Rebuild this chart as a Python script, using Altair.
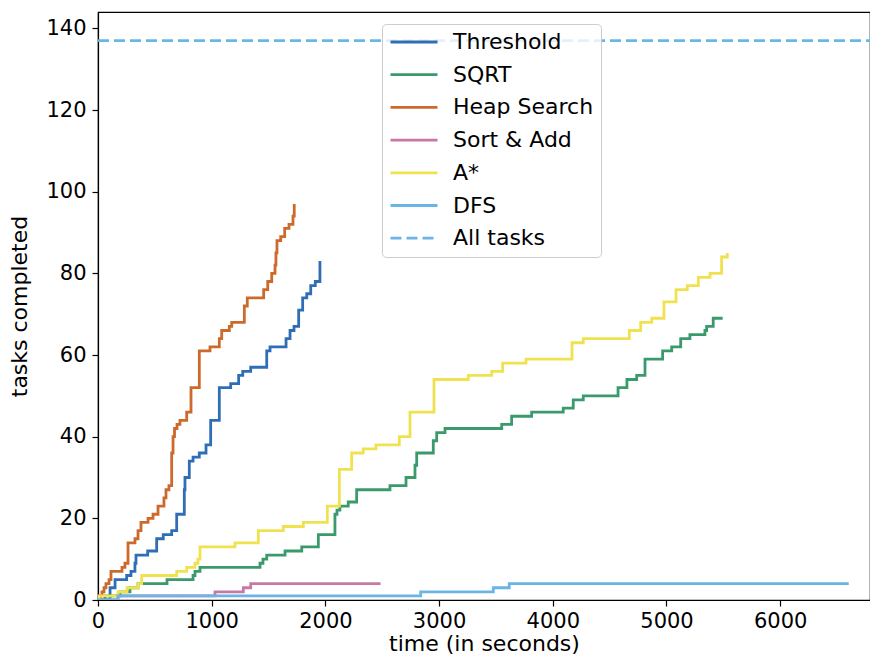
import altair as alt
import pandas as pd

series_names = ["Threshold", "SQRT", "Heap Search", "Sort & Add", "A*", "DFS", "All tasks"]
series_colors = ["#2f6eb5", "#3a9a6c", "#cc6a2b", "#c779a6", "#f0e24f", "#6ab4e6", "#6ab4e6"]
series_dash = [[1, 0], [1, 0], [1, 0], [1, 0], [1, 0], [1, 0], [11, 5]]

threshold_t = [0, 62, 106, 150, 252, 290, 325, 334, 437, 516, 574, 648, 692, 759, 765, 803, 836,
               891, 950, 991, 1067, 1167, 1237, 1273, 1343, 1484, 1513, 1654, 1689, 1724, 1765,
               1800, 1836, 1871, 1911, 1952]
threshold_n = [0, 1, 3, 5, 6, 7, 9, 11, 12, 15, 16, 17, 21, 27, 30, 34, 35, 36, 38, 44, 52, 53,
               55, 56, 57, 61, 62, 64, 66, 67, 71, 74, 75, 77, 78, 83]

sqrt_t = [0, 106, 193, 281, 352, 607, 836, 853, 897, 1425, 1451, 1484, 1645, 1792, 1938, 2084,
          2102, 2128, 2201, 2275, 2568, 2709, 2788, 2803, 2949, 2979, 3052, 3551, 3638, 3814,
          4092, 4180, 4268, 4574, 4652, 4738, 4811, 4966, 5046, 5125, 5206, 5338, 5353, 5411, 5494]
sqrt_n = [0, 1, 2, 3, 4, 5, 6, 7, 8, 9, 10, 11, 12, 13, 16, 21, 22, 23, 24, 27, 28, 30, 33, 36,
          39, 41, 42, 43, 45, 46, 47, 49, 50, 52, 54, 55, 59, 61, 62, 64, 65, 66, 67, 69, 69]

heap_t = [0, 18, 35, 53, 70, 97, 114, 211, 237, 264, 325, 352, 378, 440, 484, 528, 580, 598, 624,
          648, 660, 673, 695, 721, 780, 818, 891, 985, 1067, 1088, 1155, 1176, 1287, 1313, 1457,
          1493, 1528, 1557, 1565, 1574, 1607, 1642, 1680, 1715, 1726]
heap_n = [0, 1, 2, 3, 4, 5, 7, 8, 9, 14, 15, 17, 19, 20, 21, 23, 25, 27, 28, 36, 40, 42, 43, 44,
          46, 52, 61, 62, 64, 66, 67, 68, 72, 74, 76, 78, 80, 82, 85, 88, 89, 91, 92, 94, 97]

sortadd_t = [0, 176, 1029, 1278, 1343, 2485]
sortadd_n = [0, 1, 2, 3, 4, 4]

astar_t = [0, 9, 176, 255, 352, 384, 692, 780, 853, 879, 897, 1205, 1410, 1630, 1806, 2017, 2123,
           2231, 2333, 2445, 2650, 2744, 2955, 3257, 3463, 3559, 3764, 4169, 4268, 4673, 4773,
           4870, 4978, 5084, 5183, 5280, 5383, 5485, 5535]
astar_n = [0, 1, 2, 3, 4, 6, 7, 8, 9, 10, 13, 14, 17, 18, 19, 23, 32, 36, 37, 38, 40, 46, 54, 55,
           56, 58, 59, 63, 64, 66, 68, 69, 73, 76, 77, 79, 80, 84, 85]

dfs_t = [0, 176, 2838, 3477, 3617, 6603]
dfs_n = [0, 1, 2, 3, 4, 4]

all_tasks_t = [0, 6790]
all_tasks_n = [137, 137]

x_ticks = [0, 1000, 2000, 3000, 4000, 5000, 6000]
y_ticks = [0, 20, 40, 60, 80, 100, 120, 140]

series_data = [
    ("Threshold", threshold_t, threshold_n),
    ("SQRT", sqrt_t, sqrt_n),
    ("Heap Search", heap_t, heap_n),
    ("Sort & Add", sortadd_t, sortadd_n),
    ("A*", astar_t, astar_n),
    ("DFS", dfs_t, dfs_n),
    ("All tasks", all_tasks_t, all_tasks_n),
]
rows = []
for name, ts, ns in series_data:
    for t, n in zip(ts, ns):
        rows.append({"series": name, "time": t, "tasks": n})
df = pd.DataFrame(rows)

FONT = "DejaVu Sans"

chart = alt.Chart(df).mark_line(interpolate="step-after", strokeWidth=2.8, clip=True).encode(
    x=alt.X("time:Q",
            scale=alt.Scale(domain=[0, 6790], nice=False, zero=False),
            axis=alt.Axis(title="time (in seconds)", values=x_ticks, format="d",
                          labelPadding=4, titlePadding=2, labelFlush=False)),
    y=alt.Y("tasks:Q",
            scale=alt.Scale(domain=[0, 144], nice=False),
            axis=alt.Axis(title="tasks completed", values=y_ticks, format="d",
                          labelPadding=6, titlePadding=14, labelFlush=False)),
    color=alt.Color("series:N",
                    scale=alt.Scale(domain=series_names, range=series_colors),
                    legend=alt.Legend(title=None)),
    strokeDash=alt.StrokeDash("series:N",
                              scale=alt.Scale(domain=series_names, range=series_dash),
                              legend=alt.Legend(title=None)),
).properties(
    width=772, height=588,
    padding={"left": 90, "top": 4, "right": 0, "bottom": 56},
    autosize=alt.AutoSizeParams(type="none"),
).configure_view(
    stroke="black", strokeWidth=1.2
).configure_axis(
    grid=False, domainColor="black", domainWidth=1.2, tickColor="black", tickWidth=1.2,
    tickSize=6, labelFont=FONT, labelFontSize=21, labelColor="black",
    titleFont=FONT, titleFontSize=22, titleFontWeight="normal", titleColor="black", zindex=1,
).configure_legend(
    orient="none", legendX=284, legendY=12,
    symbolType="stroke", symbolSize=2209, symbolStrokeWidth=2.8,
    labelFont=FONT, labelFontSize=22, labelColor="black", labelOffset=14, labelLimit=400,
    padding=7, strokeColor="#cccccc", fillColor="rgba(255,255,255,0.8)", cornerRadius=4,
    rowPadding=10.7, clipHeight=22,
)

chart.save("out.html", embed_options={"renderer": "svg", "actions": False})
